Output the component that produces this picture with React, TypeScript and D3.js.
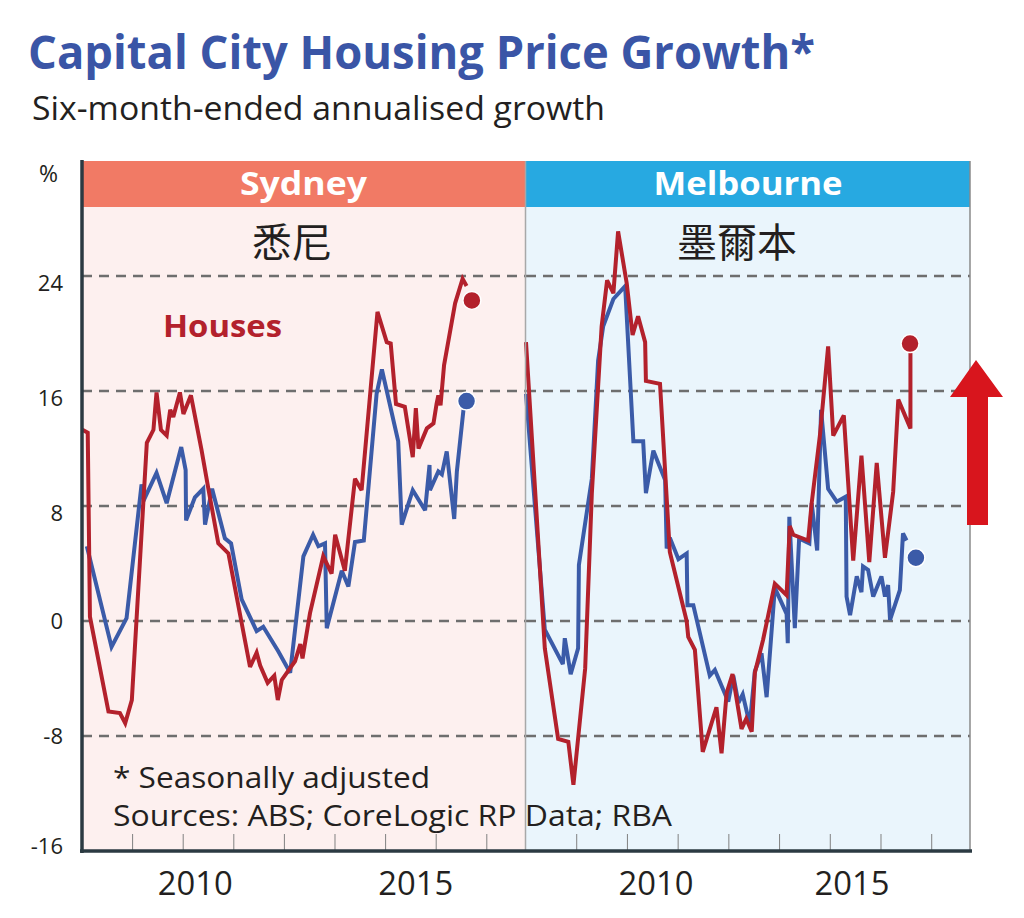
import React from "react";
import * as d3 from "d3";

type Pt = [number, number];

// ---- Data (decimal year, % six-month-ended annualised growth) ----
const sydneyHouses: Pt[] = [
  [2007.94, 13.3], [2008.06, 13.1], [2008.11, 0.3], [2008.53, -6.3], [2008.79, -6.4],
  [2008.91, -7.1], [2009.06, -5.5], [2009.4, 12.4], [2009.55, 13.3], [2009.62, 15.9],
  [2009.72, 13.3], [2009.85, 12.9], [2009.93, 14.7], [2010.0, 14.2], [2010.15, 15.9],
  [2010.23, 14.4], [2010.4, 15.7], [2010.64, 11.9], [2010.79, 9.3], [2011.02, 5.4],
  [2011.25, 4.7], [2011.74, -3.2], [2011.89, -2.2], [2011.97, -3.1], [2012.14, -4.3],
  [2012.29, -3.8], [2012.37, -5.5], [2012.46, -4.1], [2012.76, -2.8], [2012.88, -1.6],
  [2012.93, -2.6], [2013.1, 0.55], [2013.4, 4.5], [2013.59, 3.3], [2013.67, 6.0],
  [2013.89, 3.5], [2014.12, 9.9], [2014.27, 9.1], [2014.63, 21.5], [2014.84, 19.4],
  [2014.93, 19.3], [2015.05, 15.1], [2015.25, 14.9], [2015.43, 11.4], [2015.5, 14.8],
  [2015.56, 12.0], [2015.75, 13.4], [2015.9, 13.75], [2015.97, 15.1], [2016.01, 15.7],
  [2016.06, 15.0], [2016.14, 17.8], [2016.39, 22.1], [2016.56, 23.8], [2016.65, 23.3],
];
const sydneyUnits: Pt[] = [
  [2008.04, 5.2], [2008.6, -1.8], [2008.94, 0.2], [2009.28, 9.5], [2009.36, 8.6],
  [2009.62, 10.3], [2009.85, 8.2], [2010.18, 12.1], [2010.28, 10.5], [2010.29, 7.0],
  [2010.49, 8.6], [2010.68, 9.2], [2010.72, 6.7], [2010.88, 9.2], [2011.17, 5.75],
  [2011.31, 5.4], [2011.55, 1.5], [2011.89, -0.7], [2012.04, -0.4], [2012.38, -2.1],
  [2012.65, -3.6], [2012.95, 4.5], [2013.17, 6.0], [2013.29, 5.2], [2013.44, 5.4],
  [2013.48, -0.5], [2013.82, 3.5], [2013.97, 2.4], [2014.12, 5.5], [2014.32, 5.6],
  [2014.61, 15.8], [2014.73, 17.5], [2015.1, 12.5], [2015.18, 6.7], [2015.43, 9.1],
  [2015.71, 7.7], [2015.81, 10.85], [2015.82, 9.1], [2016.01, 10.4], [2016.09, 10.2],
  [2016.2, 11.8], [2016.37, 7.1], [2016.43, 10.4], [2016.58, 14.7],
];
const melbourneHouses: Pt[] = [
  [2007.18, 19.4], [2007.66, -1.9], [2008.0, -8.2], [2008.26, -8.4], [2008.39, -11.4],
  [2008.69, -3.3], [2008.86, 8.9], [2009.11, 20.5], [2009.25, 23.7], [2009.41, 22.8],
  [2009.53, 27.1], [2009.75, 23.5], [2009.9, 19.9], [2010.04, 21.2], [2010.22, 19.4],
  [2010.24, 16.7], [2010.6, 16.5], [2010.85, 4.8], [2011.28, 0.0], [2011.32, -1.1],
  [2011.49, -2.0], [2011.69, -9.1], [2012.04, -6.0], [2012.17, -9.2], [2012.3, -5.0],
  [2012.45, -3.7], [2012.68, -7.5], [2012.8, -6.8], [2012.94, -7.7], [2013.02, -3.6],
  [2013.23, -1.3], [2013.53, 2.6], [2013.83, 1.8], [2013.91, 6.6], [2014.0, 6.0],
  [2014.38, 5.6], [2014.47, 8.2], [2014.68, 12.9], [2014.89, 19.1], [2015.02, 12.9],
  [2015.29, 14.3], [2015.53, 4.2], [2015.74, 11.5], [2015.94, 4.1], [2016.13, 11.0],
  [2016.34, 4.4], [2016.55, 9.0], [2016.68, 15.4], [2016.99, 13.4], [2016.99, 19.3],
];
const melbourneUnits: Pt[] = [
  [2007.18, 15.8], [2007.66, -0.6], [2008.12, -3.0], [2008.17, -1.2], [2008.32, -3.7],
  [2008.51, -1.9], [2008.53, 3.9], [2008.86, 9.9], [2009.02, 18.1], [2009.15, 20.5],
  [2009.41, 22.4], [2009.71, 23.3], [2009.92, 12.5], [2010.17, 12.5], [2010.24, 8.9],
  [2010.43, 11.85], [2010.73, 9.8], [2010.77, 5.05], [2010.85, 5.8], [2011.07, 4.3],
  [2011.28, 4.7], [2011.3, 1.1], [2011.45, 1.1], [2011.87, -3.8], [2012.0, -3.4],
  [2012.34, -5.6], [2012.47, -3.8], [2012.6, -5.7], [2012.71, -5.1], [2012.89, -7.2],
  [2013.02, -3.5], [2013.19, -2.25], [2013.32, -5.3], [2013.53, 2.3], [2013.83, 0.5],
  [2013.86, -1.55], [2013.9, 7.25], [2014.04, -0.5], [2014.15, 5.75], [2014.41, 5.4],
  [2014.47, 8.2], [2014.61, 4.9], [2014.71, 14.7], [2014.89, 9.2], [2015.11, 8.3],
  [2015.34, 8.65], [2015.36, 1.7], [2015.45, 0.4], [2015.62, 3.1], [2015.74, 2.0],
  [2015.78, 3.8], [2015.91, 3.55], [2016.04, 1.7], [2016.25, 3.1], [2016.34, 1.7],
  [2016.42, 2.5], [2016.47, 0.07], [2016.72, 2.15], [2016.8, 6.1], [2016.89, 5.6],
];
// latest-value markers
const sydneyHouseDot: Pt = [2016.77, 22.3];
const sydneyUnitDot: Pt = [2016.65, 15.3];
const melbourneHouseDot: Pt = [2016.98, 19.3];
const melbourneUnitDot: Pt = [2017.13, 4.4];

const yTicks = [24, 16, 8, 0, -8, -16];
const yearLabels = [2010, 2015];
const minorTickCount = 8;

const RED = "#B3212C";
const BLUE = "#3B5BA8";
const FONT = "'Open Sans', 'DejaVu Sans', sans-serif";

export default function App() {
  const W = 1024, H = 918;
  const top = 161, bottom = 851;
  const y = d3.scaleLinear().domain([-16, 32]).range([bottom, top]);

  const panels = [
    {
      name: "Sydney", cjk: "悉尼", x0: 82, x1: 525,
      header: "#F17A65", bg: "#FDF0EF", cjkX: 292, nameLen: 127,
      x: d3.scaleLinear().domain([2007.93, 2017.975]).range([82, 525]),
      houses: sydneyHouses, units: sydneyUnits, hDot: sydneyHouseDot, uDot: sydneyUnitDot,
    },
    {
      name: "Melbourne", cjk: "墨爾本", x0: 526, x1: 970,
      header: "#27A9E1", bg: "#EAF5FC", cjkX: 737, nameLen: 189,
      x: d3.scaleLinear().domain([2007.18, 2018.51]).range([526, 970]),
      houses: melbourneHouses, units: melbourneUnits, hDot: melbourneHouseDot, uDot: melbourneUnitDot,
    },
  ];

  return (
    <svg width={W} height={H} style={{ position: "absolute", left: 0, top: 0, background: "#fff" }}>
      <rect x={0} y={0} width={W} height={H} fill="#fff" />
      <text x={28} y={69} fontFamily={FONT} fontWeight={700} fontSize={46} fill="#3A55A6"
        textLength={787} lengthAdjust="spacingAndGlyphs">Capital City Housing Price Growth*</text>
      <text x={32} y={120} fontFamily={FONT} fontSize={33} fill="#231F20"
        textLength={573} lengthAdjust="spacingAndGlyphs">Six-month-ended annualised growth</text>

      {panels.map((p) => {
        const tickScale = d3.scaleLinear().domain([0, 8.755]).range([p.x0, p.x1]);
        const line = d3.line<Pt>().x((d) => p.x(d[0])).y((d) => y(d[1]));
        return (
          <g key={p.name}>
            <rect x={p.x0} y={top} width={p.x1 - p.x0} height={bottom - top} fill={p.bg} />
            <rect x={p.x0} y={top} width={p.x1 - p.x0} height={46} fill={p.header} />
            <text x={(p.x0 + p.x1) / 2} y={195} textAnchor="middle" fontFamily={FONT} fontWeight={700}
              fontSize={32} fill="#fff" textLength={p.nameLen} lengthAdjust="spacingAndGlyphs">{p.name}</text>
            <text x={p.cjkX} y={257} textAnchor="middle" fontFamily="'Noto Sans CJK TC', 'Noto Sans CJK SC', sans-serif"
              fontSize={40} fill="#231F20">{p.cjk}</text>
            {yTicks.filter((t) => t > -16).map((t) => (
              <line key={t} x1={p.x0} x2={p.x1} y1={y(t)} y2={y(t)} stroke="#6E6E6E" strokeWidth={2.5}
                strokeDasharray="10,7" />
            ))}
            {d3.range(1, minorTickCount + 1).map((k) => (
              <line key={k} x1={tickScale(k)} x2={tickScale(k)} y1={bottom - 17} y2={bottom} stroke="#808080" strokeWidth={1} />
            ))}
            {yearLabels.map((yr) => (
              <text key={yr} x={p.x(yr + 0.5)} y={895} textAnchor="middle" fontFamily={FONT} fontSize={33}
                fill="#231F20" textLength={75} lengthAdjust="spacingAndGlyphs">{yr}</text>
            ))}
            <path d={line(p.units) || ""} fill="none" stroke={BLUE} strokeWidth={4} strokeLinejoin="miter" strokeMiterlimit={3} />
            <path d={line(p.houses) || ""} fill="none" stroke={RED} strokeWidth={4} strokeLinejoin="miter" strokeMiterlimit={3} />
            <circle cx={p.x(p.hDot[0])} cy={y(p.hDot[1])} r={9} fill={RED} stroke="#fff" strokeWidth={1.5} />
            <circle cx={p.x(p.uDot[0])} cy={y(p.uDot[1])} r={9} fill={BLUE} stroke="#fff" strokeWidth={1.5} />
          </g>
        );
      })}

      <line x1={525.5} x2={525.5} y1={top} y2={bottom} stroke="#A8A8A8" strokeWidth={1.5} />
      <line x1={970} x2={970} y1={top} y2={bottom} stroke="#8A8A8A" strokeWidth={1.5} />
      <line x1={82} x2={82} y1={top - 1} y2={bottom + 2} stroke="#2B3A42" strokeWidth={3.5} />
      <line x1={80} x2={972} y1={bottom} y2={bottom} stroke="#2B3A42" strokeWidth={3.5} />

      {yTicks.map((t) => (
        <text key={t} x={63} y={y(t) + (t >= 8 ? 15 : t === -16 ? 3 : 8)} textAnchor="end" fontFamily={FONT}
          fontSize={22} fill="#231F20">{t}</text>
      ))}
      <text x={39} y={182} fontFamily={FONT} fontSize={23} fill="#231F20">%</text>

      <text x={163} y={337} fontFamily={FONT} fontWeight={700} fontSize={30} fill={RED}
        textLength={119} lengthAdjust="spacingAndGlyphs">Houses</text>

      <text x={113} y={788} fontFamily={FONT} fontSize={30} fill="#231F20"
        textLength={317} lengthAdjust="spacingAndGlyphs">* Seasonally adjusted</text>
      <text x={113} y={826} fontFamily={FONT} fontSize={30} fill="#231F20"
        textLength={559} lengthAdjust="spacingAndGlyphs">Sources: ABS; CoreLogic RP Data; RBA</text>

      <path d="M976,360 L1003,397 L988,397 L988,525 L967,525 L967,397 L950,397 Z" fill="#D8151D" />
    </svg>
  );
}
